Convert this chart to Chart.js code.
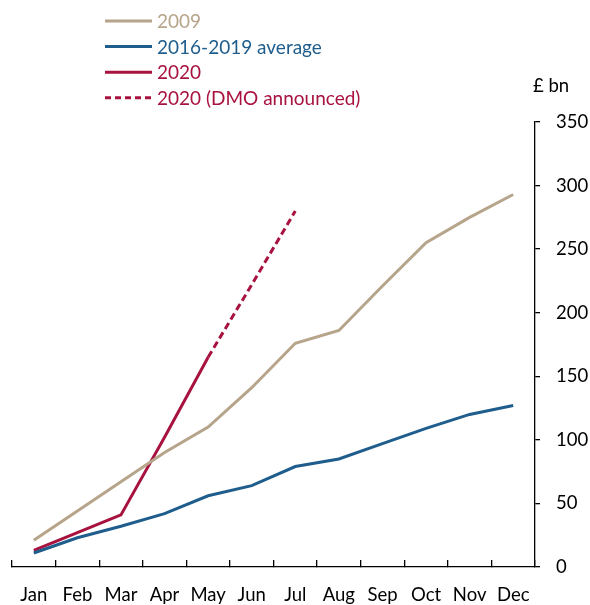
<!DOCTYPE html>
<html>
<head>
<meta charset="utf-8">
<script src="https://cdn.jsdelivr.net/npm/chart.js@4/dist/chart.umd.min.js"></script>
<style>
  html, body { margin: 0; padding: 0; background: #fff; }
</style>
</head>
<body>
<canvas id="gilts" width="590" height="605"></canvas>
<script>
// --- données (en £ bn, cumul) ---
const months = ['Jan', 'Feb', 'Mar', 'Apr', 'May', 'Jun', 'Jul', 'Aug', 'Sep', 'Oct', 'Nov', 'Dec'];
const yTicks = [0, 50, 100, 150, 200, 250, 300, 350];
const issuance2009 = [21, 44, 67, 90, 110, 141, 176, 186, 221, 255, 275, 293];
const avg2016to2019 = [11, 23, 32, 42, 56, 64, 79, 85, 97, 109, 120, 127];
const issuance2020 = [13, 27, 41, 102, 165, null, null, null, null, null, null, null];
const dmo2020 = [null, null, null, null, 165, 222, 280, null, null, null, null, null];

const TAN = '#b6a48b';
const BLUE = '#1e5d8c';
const RED = '#a8123f';
const FONT = 'Lato, "Noto Sans", sans-serif';

// Légende dessinée à la main (une entrée par ligne, texte de la couleur de la série)
const sideLegend = {
  id: 'sideLegend',
  afterDraw(chart) {
    const ctx = chart.ctx;
    const x0 = 105, lineLen = 47, y0 = 21, step = 25.6;
    ctx.save();
    ctx.font = '19px ' + FONT;
    ctx.textBaseline = 'middle';
    chart.data.datasets.forEach((ds, i) => {
      const y = y0 + i * step;
      ctx.strokeStyle = ds.borderColor;
      ctx.lineWidth = 3;
      ctx.setLineDash(ds.borderDash ? [6, 4] : []);
      ctx.beginPath();
      ctx.moveTo(x0, y);
      ctx.lineTo(x0 + lineLen, y);
      ctx.stroke();
      ctx.setLineDash([]);
      ctx.fillStyle = ds.borderColor;
      ctx.fillText(ds.label, x0 + lineLen + 5, y + 1);
    });
    ctx.restore();
  }
};

// Unité au-dessus de l'axe de droite
const unitLabel = {
  id: 'unitLabel',
  afterDraw(chart) {
    const ctx = chart.ctx;
    const y = chart.scales.y.getPixelForValue(350) - 36;
    ctx.save();
    ctx.font = '18.5px ' + FONT;
    ctx.fillStyle = '#000';
    ctx.textBaseline = 'middle';
    ctx.fillText('£ bn', chart.chartArea.right - 2, y);
    ctx.restore();
  }
};

new Chart(document.getElementById('gilts'), {
  type: 'line',
  data: {
    labels: months,
    datasets: [
      { label: '2009', data: issuance2009, borderColor: TAN },
      { label: '2016-2019 average', data: avg2016to2019, borderColor: BLUE },
      { label: '2020', data: issuance2020, borderColor: RED },
      { label: '2020 (DMO announced)', data: dmo2020, borderColor: RED, borderDash: [7, 4] }
    ]
  },
  options: {
    responsive: false,
    devicePixelRatio: 1,
    animation: false,
    elements: {
      line: { borderWidth: 3, tension: 0, fill: false },
      point: { radius: 0, hoverRadius: 0 }
    },
    layout: { padding: { left: 12, top: 122, right: 0, bottom: 0 } },
    plugins: {
      legend: { display: false },
      tooltip: { enabled: false }
    },
    scales: {
      x: {
        offset: true,
        grid: { offset: true, drawOnChartArea: false, tickLength: -7, color: '#000', lineWidth: 1.3 },
        border: { color: '#000', width: 1.3 },
        ticks: { color: '#000', font: { family: FONT, size: 18.5 }, padding: 24, maxRotation: 0, autoSkip: false },
        afterFit: (s) => { s.height = 38; s.paddingLeft = 0; s.paddingRight = 0; }
      },
      y: {
        position: 'right',
        min: 0,
        max: 350,
        afterBuildTicks: (s) => { s.ticks = yTicks.map(v => ({ value: v })); },
        grid: { drawOnChartArea: false, tickLength: 5, color: '#000', lineWidth: 1.3 },
        border: { color: '#000', width: 1.3 },
        ticks: { color: '#000', font: { family: FONT, size: 18.5 }, padding: 16 },
        afterFit: (s) => { s.width = 55; }
      }
    }
  },
  plugins: [sideLegend, unitLabel]
});
</script>
</body>
</html>
